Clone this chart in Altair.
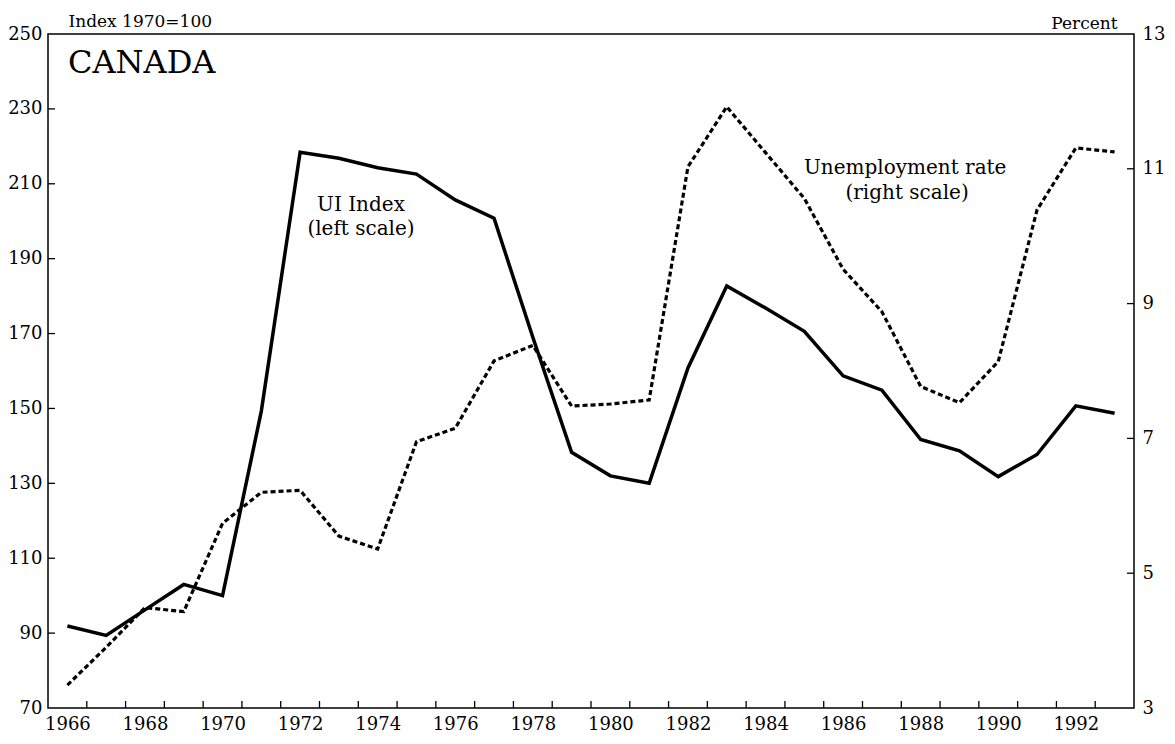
import altair as alt
import pandas as pd

# ---- data ----
years = list(range(1966, 1994))
ui_index = [91.9, 89.4, 96.2, 103.0, 100.0, 149.3, 218.4, 216.8, 214.3, 212.6,
            205.7, 200.8, 169.0, 138.3, 132.0, 130.0, 160.8, 182.7, 176.8, 170.6,
            158.7, 154.9, 141.7, 138.7, 131.8, 137.7, 150.7, 148.7]
unemp_rate = [3.34, 3.90, 4.49, 4.43, 5.74, 6.20, 6.23, 5.55, 5.36, 6.95,
              7.15, 8.15, 8.38, 7.48, 7.51, 7.57, 11.03, 11.92, 11.24, 10.56,
              9.51, 8.88, 7.77, 7.53, 8.14, 10.39, 11.31, 11.25]

x_label_years = list(range(1966, 1993, 2))
x_tick_marks = [y + 0.5 for y in range(1966, 1993)]
left_ticks = [70, 90, 110, 130, 150, 170, 190, 210, 230, 250]
right_ticks = [3, 5, 7, 9, 11, 13]
left_inner_ticks = [90, 110, 130, 150, 170, 190, 210, 230]
right_inner_ticks = [5, 7, 9, 11]

ui_labels = ["UI Index", "(left scale)"]
ui_label_year = [1973.57, 1973.57]
ui_label_val = [204.3, 197.9]
ur_labels = ["Unemployment rate", "(right scale)"]
ur_label_year = [1987.6, 1987.65]
ur_label_val = [11.01, 10.64]

W, H = 1086, 674
FONT = "DejaVu Serif"

df = pd.DataFrame({"year": years, "ui": ui_index, "ur": unemp_rate})
df_xt = pd.DataFrame({"xt": x_tick_marks})
df_lt = pd.DataFrame({"lt": left_inner_ticks})
df_rt = pd.DataFrame({"rt": right_inner_ticks})
df_uil = pd.DataFrame({"label": ui_labels, "year": ui_label_year, "val": ui_label_val})
df_url = pd.DataFrame({"label": ur_labels, "year": ur_label_year, "val": ur_label_val})

xscale = alt.Scale(domain=[1965.5, 1993.5], nice=False, zero=False)
lscale = alt.Scale(domain=[70, 250], nice=False, zero=False)
rscale = alt.Scale(domain=[3, 13], nice=False, zero=False)

x_axis = alt.Axis(values=x_label_years, format="d", ticks=False, domain=False,
                  grid=False, labelFont=FONT, labelFontSize=18, labelColor="black",
                  labelPadding=7, title=None)
left_axis = alt.Axis(values=left_ticks, ticks=False, domain=False, grid=False,
                     labelFont=FONT, labelFontSize=18, labelColor="black",
                     labelPadding=6, title="Index  1970=100", titleAngle=0,
                     titleAlign="left", titleBaseline="alphabetic", titleX=20, titleY=-8,
                     titleFont=FONT, titleFontSize=17, titleFontWeight="normal",
                     titleColor="black")
right_axis = alt.Axis(values=right_ticks, orient="right", ticks=False, domain=False,
                      grid=False, labelFont=FONT, labelFontSize=18, labelColor="black",
                      labelPadding=8, title="Percent", titleAngle=0,
                      titleAlign="right", titleBaseline="alphabetic", titleX=-17, titleY=-6,
                      titleFont=FONT, titleFontSize=17, titleFontWeight="normal",
                      titleColor="black")

ui_line = alt.Chart(df).mark_line(color="black", strokeWidth=3.5).encode(
    x=alt.X("year:Q", scale=xscale, axis=x_axis),
    y=alt.Y("ui:Q", scale=lscale, axis=left_axis),
)
ltick = alt.Chart(df_lt).mark_rule(color="black", strokeWidth=1.3).encode(
    y=alt.Y("lt:Q", scale=lscale, axis=left_axis),
    x=alt.value(0), x2=alt.value(7),
)
xtick = alt.Chart(df_xt).mark_rule(color="black", strokeWidth=1.3).encode(
    x=alt.X("xt:Q", scale=xscale, axis=x_axis),
    y=alt.value(H), y2=alt.value(H - 7),
)
ui_text = alt.Chart(df_uil).mark_text(font=FONT, fontSize=20, color="black").encode(
    x=alt.X("year:Q", scale=xscale, axis=x_axis),
    y=alt.Y("val:Q", scale=lscale, axis=left_axis),
    text="label:N",
)
title_text = alt.Chart(pd.DataFrame({"t": ["CANADA"]})).mark_text(
    font=FONT, fontSize=32, color="black", align="left", baseline="alphabetic"
).encode(x=alt.value(20), y=alt.value(39), text="t:N")

left_layer = alt.layer(ui_line, ltick, xtick, ui_text, title_text)

ur_line = alt.Chart(df).mark_line(color="black", strokeWidth=3.2, strokeDash=[5, 3]).encode(
    x=alt.X("year:Q", scale=xscale, axis=x_axis),
    y=alt.Y("ur:Q", scale=rscale, axis=right_axis),
)
rtick = alt.Chart(df_rt).mark_rule(color="black", strokeWidth=1.3).encode(
    y=alt.Y("rt:Q", scale=rscale, axis=right_axis),
    x=alt.value(W - 7), x2=alt.value(W),
)
ur_text = alt.Chart(df_url).mark_text(font=FONT, fontSize=20, color="black").encode(
    x=alt.X("year:Q", scale=xscale, axis=x_axis),
    y=alt.Y("val:Q", scale=rscale, axis=right_axis),
    text="label:N",
)
right_layer = alt.layer(ur_line, rtick, ur_text)

chart = alt.layer(left_layer, right_layer).resolve_scale(y="independent").properties(
    width=W, height=H,
    autosize=alt.AutoSizeParams(type="none"),
    padding={"left": 40, "top": 26, "right": 33, "bottom": 26},
    background="white",
).configure_view(stroke="black", strokeWidth=1.5)

chart.save("out.html", embed_options={"renderer": "svg", "actions": False})
